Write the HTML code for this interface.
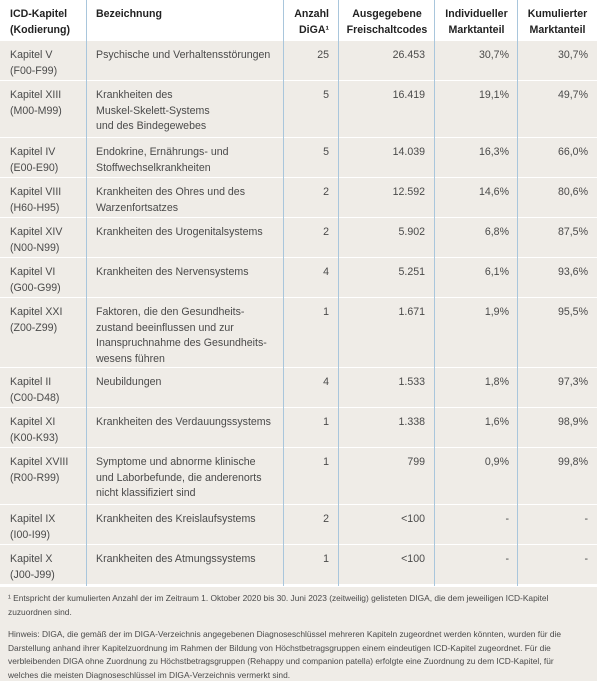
<!DOCTYPE html>
<html><head><meta charset="utf-8">
<style>
body{margin:0;width:597px;height:681px;background:#fff;font-family:"Liberation Sans",sans-serif;position:relative;overflow:hidden}
.row{position:absolute;left:0;width:597px;background:#efece7}
.hdr{position:absolute;left:0;top:0;width:597px;height:40px;background:#fff}
.c{position:absolute;top:7px;font-size:10.6px;line-height:15.5px;color:#4a4a4a}
.hdr .c{color:#222;font-weight:bold;font-size:10.6px}
.r{text-align:right}
.ct{text-align:center}
.vl{position:absolute;top:0;width:1px;height:586px;background:#a9c6dc}
.foot{position:absolute;left:0;top:587px;width:597px;height:94px;background:#efece7;font-size:8.4px;line-height:13.6px;color:#4a4a4a}
.foot p{margin:0;position:absolute;left:8px;width:560px}
</style></head><body>
<div class="hdr">
<div class="c" style="left:10px">ICD-Kapitel<br>(Kodierung)</div>
<div class="c" style="left:96px">Bezeichnung</div>
<div class="c r" style="left:286px;width:43px">Anzahl<br>DiGA¹</div>
<div class="c ct" style="left:339px;width:96px">Ausgegebene<br>Freischaltcodes</div>
<div class="c ct" style="left:436px;width:81px">Individueller<br>Marktanteil</div>
<div class="c ct" style="left:518px;width:79px">Kumulierter<br>Marktanteil</div>
</div>
<div id="rows"></div>
<div class="vl" style="left:86px"></div>
<div class="vl" style="left:283px"></div>
<div class="vl" style="left:338px"></div>
<div class="vl" style="left:434px"></div>
<div class="vl" style="left:517px"></div>
<div class="foot">
<p style="top:5px">¹ Entspricht der kumulierten Anzahl der im Zeitraum 1. Oktober 2020 bis 30. Juni 2023 (zeitweilig) gelisteten DIGA, die dem jeweiligen ICD-Kapitel zuzuordnen sind.</p>
<p style="top:41px">Hinweis: DIGA, die gemäß der im DIGA-Verzeichnis angegebenen Diagnoseschlüssel mehreren Kapiteln zugeordnet werden könnten, wurden für die Darstellung anhand ihrer Kapitelzuordnung im Rahmen der Bildung von Höchstbetragsgruppen einem eindeutigen ICD-Kapitel zugeordnet. Für die verbleibenden DIGA ohne Zuordnung zu Höchstbetragsgruppen (Rehappy und companion patella) erfolgte eine Zuordnung zu dem ICD-Kapitel, für welches die meisten Diagnoseschlüssel im DIGA-Verzeichnis vermerkt sind.</p>
</div>
<script>
const chapters=["Kapitel V<br>(F00-F99)","Kapitel XIII<br>(M00-M99)","Kapitel IV<br>(E00-E90)","Kapitel VIII<br>(H60-H95)","Kapitel XIV<br>(N00-N99)","Kapitel VI<br>(G00-G99)","Kapitel XXI<br>(Z00-Z99)","Kapitel II<br>(C00-D48)","Kapitel XI<br>(K00-K93)","Kapitel XVIII<br>(R00-R99)","Kapitel IX<br>(I00-I99)","Kapitel X<br>(J00-J99)"];
const descriptions=["Psychische und Verhaltensstörungen","Krankheiten des<br>Muskel-Skelett-Systems<br>und des Bindegewebes","Endokrine, Ernährungs- und<br>Stoffwechselkrankheiten","Krankheiten des Ohres und des<br>Warzenfortsatzes","Krankheiten des Urogenitalsystems","Krankheiten des Nervensystems","Faktoren, die den Gesundheits-<br>zustand beeinflussen und zur<br>Inanspruchnahme des Gesundheits-<br>wesens führen","Neubildungen","Krankheiten des Verdauungssystems","Symptome und abnorme klinische<br>und Laborbefunde, die anderenorts<br>nicht klassifiziert sind","Krankheiten des Kreislaufsystems","Krankheiten des Atmungssystems"];
const digaCounts=["25","5","5","2","2","4","1","4","1","1","2","1"];
const codes=["26.453","16.419","14.039","12.592","5.902","5.251","1.671","1.533","1.338","799","&lt;100","&lt;100"];
const indivShares=["30,7%","19,1%","16,3%","14,6%","6,8%","6,1%","1,9%","1,8%","1,6%","0,9%","-","-"];
const cumShares=["30,7%","49,7%","66,0%","80,6%","87,5%","93,6%","95,5%","97,3%","98,9%","99,8%","-","-"];
const lineCounts=[2,3,2,2,2,2,4,2,2,3,2,2];
const host=document.getElementById('rows');
let y=41;
for(let i=0;i<chapters.length;i++){
  const h=lineCounts[i]<=2?39:(lineCounts[i]===3?56:69);
  const r=document.createElement('div');
  r.className='row';r.style.top=y+'px';r.style.height=h+'px';
  
  
  r.innerHTML=
   '<div class="c" style="left:10px">'+chapters[i]+'</div>'+
   '<div class="c" style="left:96px">'+descriptions[i]+'</div>'+
   '<div class="c r" style="left:286px;width:43px">'+digaCounts[i]+'</div>'+
   '<div class="c r" style="left:339px;width:86px">'+codes[i]+'</div>'+
   '<div class="c r" style="left:436px;width:73px">'+indivShares[i]+'</div>'+
   '<div class="c r" style="left:518px;width:70px">'+cumShares[i]+'</div>';
  host.appendChild(r);
  y+=h+1;
}
</script>
</body></html>
